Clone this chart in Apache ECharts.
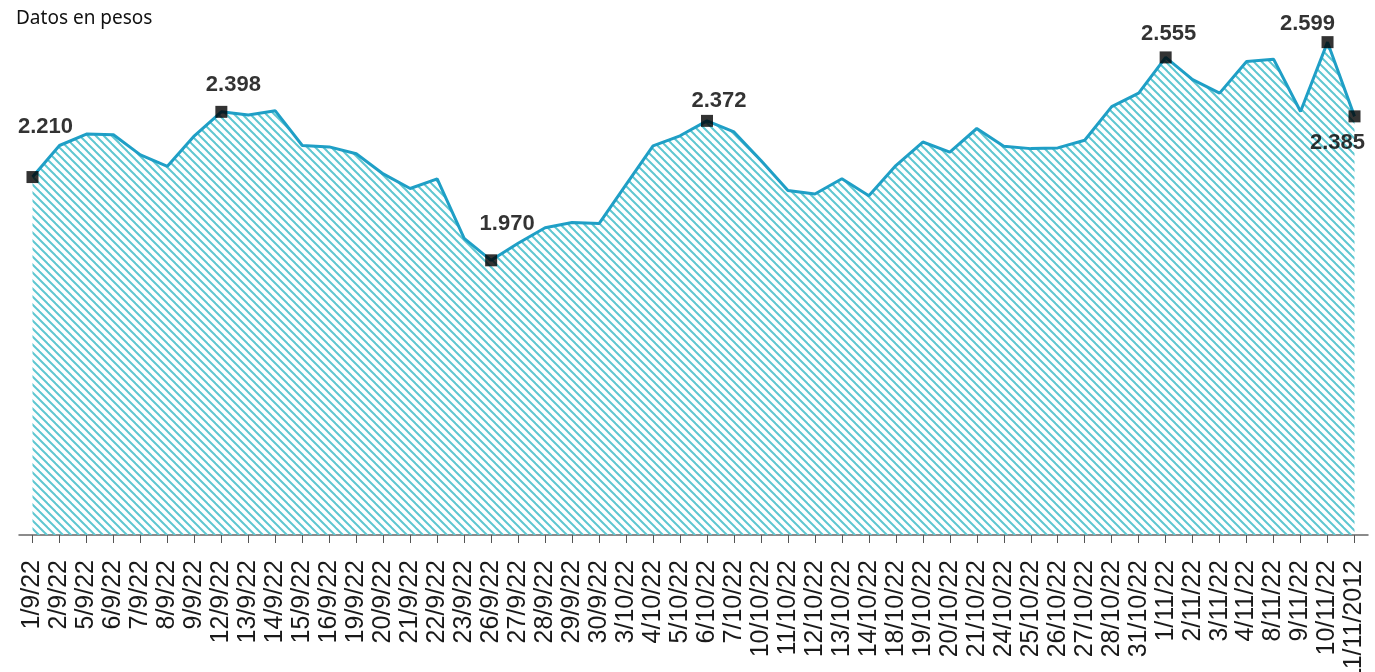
<!DOCTYPE html>
<html>
<head>
<meta charset="utf-8">
<script src="https://cdn.jsdelivr.net/npm/echarts@6/dist/echarts.min.js"></script>
<style>
  html, body { margin: 0; padding: 0; background: #ffffff; }
  #chart { width: 1375px; height: 672px; }
</style>
</head>
<body>
<div id="chart"></div>
<script>
// ---- data ----
const categories = ['1/9/22','2/9/22','5/9/22','6/9/22','7/9/22','8/9/22','9/9/22','12/9/22','13/9/22','14/9/22',
  '15/9/22','16/9/22','19/9/22','20/9/22','21/9/22','22/9/22','23/9/22','26/9/22','27/9/22','28/9/22',
  '29/9/22','30/9/22','3/10/22','4/10/22','5/10/22','6/10/22','7/10/22','10/10/22','11/10/22','12/10/22',
  '13/10/22','14/10/22','18/10/22','19/10/22','20/10/22','21/10/22','24/10/22','25/10/22','26/10/22','27/10/22',
  '28/10/22','31/10/22','1/11/22','2/11/22','3/11/22','4/11/22','8/11/22','9/11/22','10/11/22','11/11/2012'];
const prices = [2210, 2301, 2334, 2332, 2274, 2241, 2329, 2398, 2389, 2401,
  2301, 2297, 2277, 2219, 2177, 2205, 2033, 1970, 2019, 2064,
  2079, 2076, 2188, 2300, 2329, 2372, 2340, 2258, 2171, 2161,
  2205, 2156, 2243, 2311, 2282, 2350, 2299, 2292, 2294, 2316,
  2413, 2452, 2555, 2491, 2452, 2543, 2550, 2399, 2599, 2385];
const highlighted = ['1/9/22','12/9/22','26/9/22','6/10/22','1/11/22','10/11/22','11/11/2012'];
const titleText = 'Datos en pesos';

// ---- styling ----
const labelOffsets = {
  '1/9/22': [13, -50], '12/9/22': [12, -27], '26/9/22': [16, -36], '6/10/22': [12, -20],
  '1/11/22': [3, -23], '10/11/22': [-20, -18], '11/11/2012': [-17, 27]
};
function fmt(v) { return String(v).replace(/\B(?=(\d{3})+(?!\d))/g, '.'); }

const pc = document.createElement('canvas');
pc.width = 8; pc.height = 8;
const ctx = pc.getContext('2d');
ctx.strokeStyle = '#5ec7d1';
ctx.lineWidth = 2.0;
[-8, 0, 8].forEach(k => {
  ctx.beginPath(); ctx.moveTo(k - 1, -1); ctx.lineTo(k + 9, 9); ctx.stroke();
});

const markData = prices.map((v, i) => {
  const c = categories[i];
  if (highlighted.indexOf(c) < 0) return '-';
  return { value: v, label: { offset: labelOffsets[c] || [0, -25] } };
});

const chart = echarts.init(document.getElementById('chart'), null, { renderer: 'canvas' });
chart.setOption({
  backgroundColor: '#ffffff',
  animation: false,
  title: {
    text: titleText, left: 11, top: 4,
    textStyle: { fontFamily: 'Noto Sans', fontSize: 19, fontWeight: 'normal', color: '#111' }
  },
  grid: { left: 19, right: 7, top: 30, bottom: 137, containLabel: false, outerBoundsMode: 'none' },
  xAxis: {
    type: 'category', data: categories, boundaryGap: true,
    axisLine: { show: true, lineStyle: { color: '#666', width: 1.5 } },
    axisTick: { show: true, alignWithLabel: true, length: 8, lineStyle: { color: '#555', width: 1 } },
    axisLabel: {
      interval: 0, rotate: 90, margin: 25, fontSize: 25,
      fontFamily: 'Liberation Sans', color: '#1a1a1a'
    }
  },
  yAxis: { type: 'value', min: 1178, max: 2634, show: false, splitLine: { show: false } },
  series: [
    {
      type: 'line', data: prices, symbol: 'none', smooth: false,
      lineStyle: { color: '#1f9fc6', width: 3 },
      areaStyle: { origin: 'start', color: { image: pc, repeat: 'repeat' }, opacity: 1 },
      z: 2
    },
    {
      type: 'scatter', data: markData, symbol: 'rect', symbolSize: 12,
      itemStyle: { color: '#000' },
      label: {
        show: true, position: 'inside', formatter: p => fmt(p.value),
        fontFamily: 'Liberation Sans', fontWeight: 'bold', fontSize: 22, color: '#000'
      },
      z: 5
    }
  ]
});
</script>
</body>
</html>
